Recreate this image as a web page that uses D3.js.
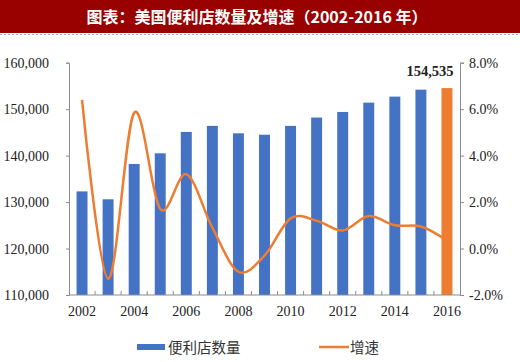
<!DOCTYPE html>
<html lang="zh">
<head>
<meta charset="UTF-8">
<title>美国便利店数量及增速</title>
<style>
  body { margin: 0; background: #fff; }
  svg { display: block; }
</style>
</head>
<body>
<script src="https://cdn.jsdelivr.net/npm/d3@7"></script>
<script>
  // 数据
  const years = [2002, 2003, 2004, 2005, 2006, 2007, 2008, 2009, 2010, 2011, 2012, 2013, 2014, 2015, 2016];
  const stores = [132300, 130600, 138200, 140500, 145100, 146400, 144800, 144500, 146400, 148200, 149400, 151400, 152700, 154200, 154535];
  const growth = [6.4, -1.3, 5.85, 1.7, 3.2, 0.9, -1.0, -0.3, 1.3, 1.2, 0.78, 1.4, 1.0, 0.95, 0.35];
  const leftTicks = [110000, 120000, 130000, 140000, 150000, 160000];
  const rightTicks = [-2, 0, 2, 4, 6, 8];
  const xLabelYears = [2002, 2004, 2006, 2008, 2010, 2012, 2014, 2016];

  const w = 520, h = 362;
  const plotL = 69, plotR = 460, plotT = 62.7, plotB = 295;
  const blue = '#4472C4', orange = '#ED7D31', axisColor = '#8c8c8c';
  const serif = '"Liberation Serif", "Times New Roman", serif';
  const cjk = '"Noto Sans CJK SC", sans-serif';

  const svg = d3.select('body').append('svg')
    .attr('width', w).attr('height', h);

  // 标题栏
  svg.append('rect').attr('x', 0).attr('y', 0).attr('width', w).attr('height', 33)
    .attr('fill', '#990000');
  svg.append('line').attr('x1', 0).attr('x2', w).attr('y1', 34.5).attr('y2', 34.5)
    .attr('stroke', '#98a6d6').attr('stroke-dasharray', '2,2');
  svg.append('text').attr('x', 257).attr('y', 22.5)
    .attr('text-anchor', 'middle').attr('fill', '#fff')
    .attr('font-family', cjk).attr('font-weight', 'bold').attr('font-size', 16)
    .text('图表：美国便利店数量及增速（2002-2016 年）');

  const x = d3.scaleBand().domain(years).range([plotL, plotR])
    .paddingInner(0.58).paddingOuter(0.29);
  const yL = d3.scaleLinear().domain([110000, 160000]).range([plotB, plotT]);
  const yR = d3.scaleLinear().domain([-2, 8]).range([plotB, plotT]);

  // 柱子
  svg.selectAll('rect.bar').data(years).enter().append('rect')
    .attr('class', 'bar')
    .attr('x', (d) => x(d))
    .attr('width', x.bandwidth())
    .attr('y', (d, i) => yL(stores[i]))
    .attr('height', (d, i) => plotB - yL(stores[i]))
    .attr('fill', (d, i) => i === years.length - 1 ? orange : blue);

  // 左轴
  const gL = svg.append('g').attr('transform', `translate(${plotL},0)`)
    .call(d3.axisLeft(yL).tickValues(leftTicks).tickSize(3).tickPadding(17)
      .tickFormat(d3.format(',')));
  // 右轴
  const gR = svg.append('g').attr('transform', `translate(${plotR},0)`)
    .call(d3.axisRight(yR).tickValues(rightTicks).tickSize(4).tickPadding(5)
      .tickFormat((d) => d.toFixed(1) + '%'));
  [gL, gR].forEach((g) => {
    g.select('.domain').attr('stroke', axisColor);
    g.selectAll('.tick line').attr('stroke', axisColor);
    g.selectAll('text').attr('font-family', serif).attr('font-size', 14).attr('fill', '#222');
  });

  // X 轴
  svg.append('line').attr('x1', plotL).attr('x2', plotR).attr('y1', plotB).attr('y2', plotB)
    .attr('stroke', axisColor);
  const gap = (x.step() - x.bandwidth()) / 2;
  svg.selectAll('line.xtick').data(years.slice(1)).enter().append('line')
    .attr('class', 'xtick')
    .attr('x1', (d) => x(d) - gap).attr('x2', (d) => x(d) - gap)
    .attr('y1', plotB).attr('y2', plotB - 4)
    .attr('stroke', axisColor);
  svg.selectAll('text.xlab').data(xLabelYears).enter().append('text')
    .attr('class', 'xlab')
    .attr('x', (d) => x(d) + x.bandwidth() / 2)
    .attr('y', 316)
    .attr('text-anchor', 'middle')
    .attr('font-family', serif).attr('font-size', 14).attr('fill', '#222')
    .text((d) => d);

  // 增速曲线 (平滑)
  const line = d3.line()
    .x((d, i) => x(years[i]) + x.bandwidth() / 2)
    .y((d) => yR(d))
    .curve(d3.curveCatmullRom.alpha(0));
  svg.append('path').datum(growth)
    .attr('d', line)
    .attr('fill', 'none').attr('stroke', orange).attr('stroke-width', 2.5);

  // 数据标签
  svg.append('text').attr('x', 430).attr('y', 76)
    .attr('text-anchor', 'middle')
    .attr('font-family', serif).attr('font-weight', 'bold').attr('font-size', 14.5).attr('fill', '#222')
    .text(d3.format(',')(stores[stores.length - 1]));

  // 图例
  svg.append('rect').attr('x', 137).attr('y', 344).attr('width', 28).attr('height', 6).attr('fill', blue);
  svg.append('text').attr('x', 168).attr('y', 353)
    .attr('font-family', cjk).attr('font-size', 14.5).attr('fill', '#333').text('便利店数量');
  svg.append('line').attr('x1', 319).attr('x2', 349).attr('y1', 347).attr('y2', 347)
    .attr('stroke', orange).attr('stroke-width', 2.5);
  svg.append('text').attr('x', 350).attr('y', 353)
    .attr('font-family', cjk).attr('font-size', 14.5).attr('fill', '#333').text('增速');
</script>
</body>
</html>
